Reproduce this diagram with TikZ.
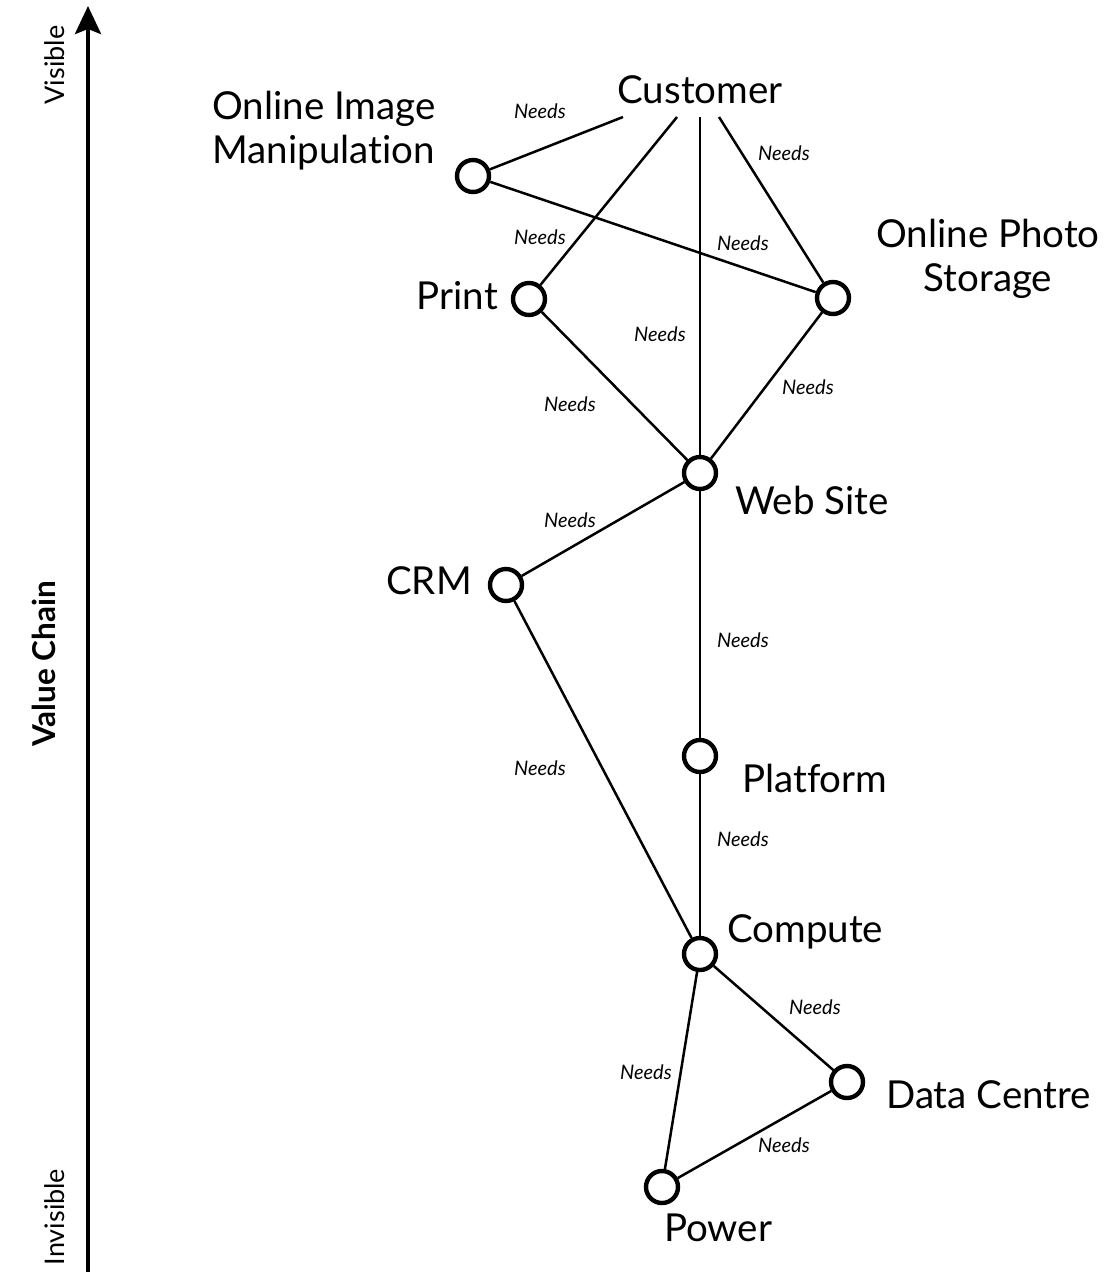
\documentclass[tikz,border=0pt]{standalone}
\usepackage{fontspec}
\setmainfont{Lato}[Ligatures=NoCommon]
\usetikzlibrary{arrows.meta}
\begin{document}
\begin{tikzpicture}[x=1pt,y=-1pt,
  comp/.style={circle,draw,line width=4.4pt,fill=white,minimum size=32pt,inner sep=0pt},
  lbl/.style={font=\fontsize{38.5}{44}\selectfont,inner sep=0pt},
  need/.style={font=\fontsize{20}{22}\selectfont\itshape,inner sep=0pt},
  axtxt/.style={rotate=90,font=\fontsize{27}{30}\selectfont,inner sep=0pt},
  link/.style={line width=2.5pt}]
\useasboundingbox (0,0) rectangle (1106,1272);
% axis
\coordinate (axb) at (88,1272);
\coordinate (axt) at (88,6);
\draw[line width=4pt,-{Stealth[length=28pt,width=26pt,inset=5pt]}] (axb) -- (axt);
\node[axtxt] (vis) at (55,65) {Visible};
\node[axtxt] (invis) at (55,1217) {Invisible};
\node[rotate=90,font=\fontsize{31.5}{36}\selectfont\bfseries,inner sep=0pt] (vc) at (44,664) {Value Chain};
% components
\node[lbl] (cust) at (700,90) {Customer};
\coordinate (c1) at (623,117);
\coordinate (c2) at (677,117);
\coordinate (c3) at (700,117);
\coordinate (c4) at (719,117);
\node[comp] (oim) at (473,176) {};
\node[comp] (print) at (529,299) {};
\node[comp] (ops) at (833,298) {};
\node[comp] (web) at (700,473) {};
\node[comp] (crm) at (506,585) {};
\node[comp] (plat) at (700,756) {};
\node[comp] (compute) at (700,954) {};
\node[comp] (dc) at (847,1082) {};
\node[comp] (power) at (662,1187) {};
% labels
\node[lbl,align=left] (oimt) at (324,131) {Online Image\\Manipulation};
\node[lbl,align=center] (opst) at (988,259) {Online Photo\\Storage};
\node[lbl,anchor=east] (printt) at (498,296) {Print};
\node[lbl,anchor=west] (webt) at (735,500) {Web Site};
\node[lbl,anchor=east] (crmt) at (472,581) {CRM};
\node[lbl,anchor=west] (platt) at (742,778) {Platform};
\node[lbl,anchor=west] (compt) at (727,932) {Compute};
\node[lbl,anchor=west] (dct) at (886,1095) {Data Centre};
\node[lbl] (powt) at (718,1228) {Power};
% links
\draw[link] (c1) -- (oim);
\draw[link] (c2) -- (print);
\draw[link] (c3) -- (web);
\draw[link] (c4) -- (ops);
\draw[link] (oim) -- (ops);
\draw[link] (print) -- (web);
\draw[link] (ops) -- (web);
\draw[link] (web) -- (crm);
\draw[link] (web) -- (plat);
\draw[link] (crm) -- (compute);
\draw[link] (plat) -- (compute);
\draw[link] (compute) -- (dc);
\draw[link] (compute) -- (power);
\draw[link] (dc) -- (power);
% needs labels
\node[need] (n1) at (540,111) {Needs};
\node[need] (n2) at (540,237) {Needs};
\node[need] (n3) at (660,334) {Needs};
\node[need] (n4) at (784,153) {Needs};
\node[need] (n5) at (743,243) {Needs};
\node[need] (n6) at (570,404) {Needs};
\node[need] (n7) at (808,387) {Needs};
\node[need] (n8) at (570,520) {Needs};
\node[need] (n9) at (743,640) {Needs};
\node[need] (n10) at (540,768) {Needs};
\node[need] (n11) at (743,839) {Needs};
\node[need] (n12) at (815,1007) {Needs};
\node[need] (n13) at (646,1072) {Needs};
\node[need] (n14) at (784,1145) {Needs};
\end{tikzpicture}
\end{document}
